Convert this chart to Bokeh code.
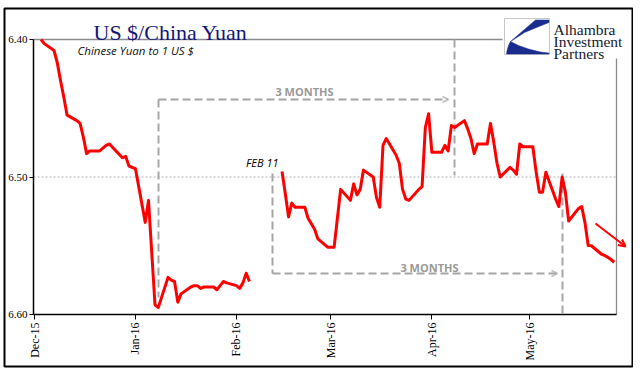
import math
from datetime import datetime
import pandas as pd
from bokeh.plotting import figure
from bokeh.models import (Range1d, FixedTicker, DatetimeTickFormatter,
                          PrintfTickFormatter, Arrow, OpenHead)
from bokeh.core.properties import value
from bokeh.embed import file_html
from bokeh.resources import INLINE

# ---------------- data ----------------
dates_a = ["2015-12-03", "2015-12-04", "2015-12-07", "2015-12-08", "2015-12-09",
           "2015-12-10", "2015-12-11", "2015-12-14", "2015-12-15", "2015-12-16",
           "2015-12-17", "2015-12-18", "2015-12-21", "2015-12-22", "2015-12-23",
           "2015-12-24", "2015-12-28", "2015-12-29", "2015-12-30", "2015-12-31",
           "2016-01-01", "2016-01-04", "2016-01-05", "2016-01-06", "2016-01-07",
           "2016-01-08", "2016-01-11", "2016-01-12", "2016-01-13", "2016-01-14",
           "2016-01-15", "2016-01-18", "2016-01-19", "2016-01-20", "2016-01-21",
           "2016-01-22", "2016-01-25", "2016-01-26", "2016-01-27", "2016-01-28",
           "2016-01-29", "2016-02-01", "2016-02-02", "2016-02-03", "2016-02-04",
           "2016-02-05"]
rates_a = [6.400, 6.403, 6.408, 6.417, 6.430,
           6.442, 6.455, 6.459, 6.461, 6.471,
           6.483, 6.481, 6.481, 6.479, 6.477,
           6.476, 6.486, 6.485, 6.492, 6.493,
           6.494, 6.533, 6.517, 6.555, 6.593,
           6.595, 6.573, 6.575, 6.576, 6.591,
           6.585, 6.580, 6.579, 6.579, 6.581,
           6.580, 6.580, 6.582, 6.579, 6.576,
           6.577, 6.579, 6.581, 6.577, 6.570,
           6.576]

dates_b = ["2016-02-15", "2016-02-16", "2016-02-17", "2016-02-18", "2016-02-19",
           "2016-02-22", "2016-02-23", "2016-02-24", "2016-02-25", "2016-02-26",
           "2016-02-29", "2016-03-01", "2016-03-02", "2016-03-03", "2016-03-04",
           "2016-03-07", "2016-03-08", "2016-03-09", "2016-03-10", "2016-03-11",
           "2016-03-14", "2016-03-15", "2016-03-16", "2016-03-17", "2016-03-18",
           "2016-03-21", "2016-03-22", "2016-03-23", "2016-03-24", "2016-03-25",
           "2016-03-28", "2016-03-29", "2016-03-30", "2016-03-31", "2016-04-01",
           "2016-04-04", "2016-04-05", "2016-04-06", "2016-04-07", "2016-04-08",
           "2016-04-11", "2016-04-12", "2016-04-13", "2016-04-14", "2016-04-15",
           "2016-04-18", "2016-04-19", "2016-04-20", "2016-04-21", "2016-04-22",
           "2016-04-25", "2016-04-26", "2016-04-27", "2016-04-28", "2016-04-29",
           "2016-05-02", "2016-05-03", "2016-05-04", "2016-05-05", "2016-05-06",
           "2016-05-09", "2016-05-10", "2016-05-11", "2016-05-12", "2016-05-13",
           "2016-05-16", "2016-05-17", "2016-05-18", "2016-05-19", "2016-05-20",
           "2016-05-23", "2016-05-24", "2016-05-25", "2016-05-26", "2016-05-27"]
rates_b = [6.496, 6.512, 6.529, 6.519, 6.522,
           6.522, 6.530, 6.534, 6.538, 6.545,
           6.551, 6.551, 6.551, 6.530, 6.509,
           6.517, 6.505, 6.513, 6.509, 6.495,
           6.500, 6.515, 6.522, 6.477, 6.472,
           6.484, 6.490, 6.509, 6.516, 6.517,
           6.509, 6.507, 6.464, 6.454, 6.482,
           6.482, 6.477, 6.481, 6.4625, 6.464,
           6.459, 6.465, 6.472, 6.483, 6.476,
           6.476, 6.461, 6.4745, 6.490, 6.500,
           6.493, 6.495, 6.498, 6.476, 6.478,
           6.478, 6.496, 6.511, 6.511, 6.4965,
           6.516, 6.5215, 6.500, 6.511, 6.532,
           6.523, 6.5215, 6.533, 6.5498, 6.550,
           6.556, 6.557, 6.5583, 6.560, 6.562]

y_ticks = [6.40, 6.50, 6.60]
x_tick_dates = ["2015-12-01", "2016-01-01", "2016-02-01", "2016-03-01", "2016-04-01", "2016-05-01"]
title_text = "US $/China Yuan"
subtitle_text = "Chinese Yuan to 1 US $"
logo_lines = ["Alhambra", "Investment", "Partners"]

# ---------------- layout helpers (picture pixel -> data coords) ----------------
EPOCH = datetime(1970, 1, 1)
DEC1_MS = (datetime(2015, 12, 1) - EPOCH).total_seconds() * 1000.0
PX_PER_DAY = 3.257

def X(px):
    return DEC1_MS + (px - 34.0) / PX_PER_DAY * 86400000.0

def Y(py):
    return 6.40 + (py - 39.0) / 1375.0

W, H = 633, 368
p = figure(width=W, height=H, x_axis_type="datetime",
           x_range=Range1d(X(0), X(W)), y_range=Range1d(Y(H), Y(0)),
           output_backend="svg", toolbar_location=None,
           min_border_left=0, min_border_right=0, min_border_top=0,
           min_border_bottom=0)
p.outline_line_color = None
p.background_fill_color = "white"
p.border_fill_color = "white"
p.xgrid.visible = False
p.ygrid.visible = False

# axes, pinned at the chart's own left/bottom edges
p.yaxis.fixed_location = X(33)
p.yaxis.ticker = FixedTicker(ticks=y_ticks)
p.yaxis.formatter = PrintfTickFormatter(format="%.2f")
p.yaxis.axis_line_color = None
p.yaxis.major_tick_out = 4
p.yaxis.major_tick_in = 0
p.yaxis.minor_tick_line_color = None
p.yaxis.major_tick_line_color = "black"
p.yaxis.major_label_standoff = 2
p.yaxis.major_label_text_font = "Liberation Serif"
p.yaxis.major_label_text_font_size = "11px"
p.yaxis.major_label_text_color = "black"

x_ticks_ms = [(pd.Timestamp(d) - pd.Timestamp("1970-01-01")).total_seconds() * 1000.0 for d in x_tick_dates]
p.xaxis.fixed_location = 6.60
p.xaxis.ticker = FixedTicker(ticks=x_ticks_ms)
p.xaxis.formatter = DatetimeTickFormatter(months="%b-%y", days="%b-%y")
p.xaxis.axis_line_color = None
p.xaxis.major_tick_out = 5
p.xaxis.major_tick_in = 0
p.xaxis.minor_tick_line_color = None
p.xaxis.major_tick_line_color = "black"
p.xaxis.major_label_orientation = math.pi / 2
p.xaxis.major_label_standoff = 3
p.xaxis.major_label_text_font = "Liberation Serif"
p.xaxis.major_label_text_font_size = "12px"
p.xaxis.major_label_text_color = "black"

# outer border
p.quad(left=[X(4)], right=[X(632)], top=[Y(8)], bottom=[Y(366)],
       fill_alpha=0, line_color="black", line_width=2)

# frame lines
p.segment(x0=[X(33)], y0=[6.40], x1=[X(502)], y1=[6.40], line_color="#8c8c8c", line_width=1.3)
p.segment(x0=[X(616)], y0=[Y(58)], x1=[X(616)], y1=[6.60], line_color="#8c8c8c", line_width=1.3)
p.segment(x0=[X(33)], y0=[6.50], x1=[X(616)], y1=[6.50], line_color="#b0b0b0",
          line_width=1, line_dash="2 2")
p.segment(x0=[X(33), X(33)], y0=[6.40, 6.60], x1=[X(33), X(616)], y1=[6.60, 6.60],
          line_color="black", line_width=1.5)

# dashed "3 months" brackets
dash_col = "#a6a6a6"
p.segment(x0=[X(158), X(454), X(272), X(562)],
          y0=[Y(99), 6.40, Y(173), Y(173)],
          x1=[X(158), X(454), X(272), X(562)],
          y1=[Y(297), Y(175), Y(273), 6.60],
          line_color=dash_col, line_width=2, line_dash="8 4")
for (xs, ys, xe) in [(158, 99, 448), (272, 273, 557)]:
    p.add_layout(Arrow(x_start=X(xs), y_start=Y(ys), x_end=X(xe), y_end=Y(ys),
                       line_color=dash_col, line_width=2, line_dash="8 4",
                       end=OpenHead(size=6, line_color="#c0c0c0", line_width=1.5)))

p.text(x=[X(304), X(429)], y=[Y(91), Y(267)], text=["3 MONTHS", "3 MONTHS"],
       text_font=value("Open Sans"), text_font_style="bold", text_font_size=value("11px"),
       text_color="#999999", text_align="center", text_baseline="middle")
p.text(x=[X(278)], y=[Y(162)], text=["FEB 11"], text_font=value("Open Sans"),
       text_font_style="italic", text_font_size=value("11px"), text_color="black",
       text_align="right", text_baseline="middle")

# series
p.line(x=pd.to_datetime(dates_a), y=rates_a, line_color="#ff0000", line_width=3, line_join="round")
p.line(x=pd.to_datetime(dates_b), y=rates_b, line_color="#ff0000", line_width=3, line_join="round")

# trend arrow
p.add_layout(Arrow(x_start=X(595), y_start=Y(223), x_end=X(625), y_end=Y(246),
                   line_color="#ff0000", line_width=2,
                   end=OpenHead(size=7, line_color="#ff0000", line_width=2)))

# titles
p.text(x=[X(170)], y=[Y(32)], text=[title_text], text_font=value("Liberation Serif"),
       text_font_size=value("22px"), text_color="#14167a", text_align="center",
       text_baseline="alphabetic")
p.text(x=[X(77)], y=[Y(50)], text=[subtitle_text], text_font=value("Open Sans"),
       text_font_style="italic", text_font_size=value("11.5px"), text_color="#111111",
       text_align="left", text_baseline="middle")

# logo
p.quad(left=[X(504)], right=[X(549)], top=[Y(18)], bottom=[Y(54)],
       fill_color="white", line_color="#c8c8c8", line_width=1)
logo_upper = [(535, 19.5), (548.5, 19.5), (548.5, 22), (536, 27), (524, 32), (514, 38.5), (510, 41)]
logo_lower = [(510, 41), (518, 45), (528, 48.5), (540, 51.5), (548.5, 52.5), (548.5, 53.5),
              (506, 53.5), (506.5, 50), (508, 45)]
p.patches(xs=[[X(a) for a, b in logo_upper], [X(a) for a, b in logo_lower]],
          ys=[[Y(b) for a, b in logo_upper], [Y(b) for a, b in logo_lower]],
          fill_color="#1a2d8f", line_color="#1a2d8f", line_width=0.5)
p.text(x=[X(553)] * 3, y=[Y(28.5), Y(41), Y(53)], text=logo_lines,
       text_font=value("Liberation Serif"), text_font_size=value("15.5px"),
       text_color="#1a1a2e", text_align="left", text_baseline="alphabetic")

open("out.html", "w").write(file_html(p, INLINE))
